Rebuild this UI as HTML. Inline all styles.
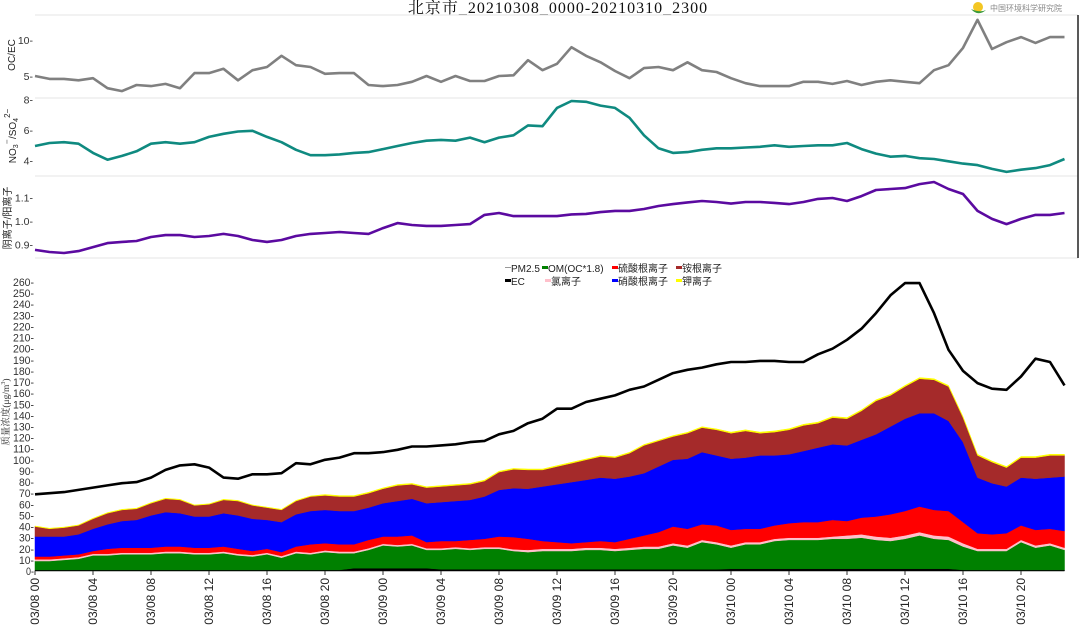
<!DOCTYPE html>
<html><head><meta charset="utf-8">
<style>
html,body{margin:0;padding:0;background:#fff;}
svg{display:block;font-family:"Liberation Sans","Noto Sans CJK SC",sans-serif;}
</style></head>
<body>
<svg id="chart" width="1080" height="626" viewBox="0 0 1080 626" xmlns="http://www.w3.org/2000/svg">
<text x="558" y="13" text-anchor="middle" font-family="'Liberation Serif','Noto Serif CJK SC',serif" font-size="16" letter-spacing="1" fill="#111">北京市_20210308_0000-20210310_2300</text>
<g>
<circle cx="978" cy="7" r="5" fill="#f3c623"/>
<path d="M971 9 Q978 17 986 10 Q980 13 971 9Z" fill="#3a9a3a"/>
<text x="990" y="11" font-size="8" fill="#888">中国环境科学研究院</text>
</g>
<g id="panels"></g>
<g id="main"></g>
</svg>
<script>
const hours = 72;
const tickLabels = ["03/08 00","03/08 04","03/08 08","03/08 12","03/08 16","03/08 20","03/09 00","03/09 04","03/09 08","03/09 12","03/09 16","03/09 20","03/10 00","03/10 04","03/10 08","03/10 12","03/10 16","03/10 20"];
const ocec = [5.0,4.6,4.6,4.4,4.7,3.3,2.9,3.75,3.6,3.9,3.3,5.4,5.4,6.0,4.4,5.8,6.25,7.8,6.5,6.25,5.3,5.4,5.4,3.75,3.6,3.75,4.2,5.0,4.2,5.0,4.3,4.3,5.0,5.1,7.2,5.8,6.7,9.0,7.8,6.9,5.7,4.7,6.1,6.25,5.8,6.9,5.8,5.55,4.7,4.0,3.6,3.6,3.6,4.2,4.2,3.9,4.3,3.75,4.2,4.4,4.2,4.0,5.8,6.5,8.9,12.8,8.75,9.7,10.4,9.6,10.4,10.4];
const no3so4 = [4.95,5.15,5.2,5.1,4.5,4.05,4.3,4.6,5.1,5.2,5.1,5.2,5.55,5.75,5.9,5.95,5.55,5.2,4.7,4.35,4.35,4.4,4.5,4.55,4.75,4.95,5.15,5.3,5.35,5.3,5.5,5.2,5.5,5.65,6.3,6.25,7.45,7.9,7.85,7.6,7.45,6.8,5.65,4.8,4.5,4.55,4.7,4.8,4.8,4.85,4.9,5.0,4.9,4.95,5.0,5.0,5.15,4.75,4.45,4.25,4.3,4.15,4.1,3.95,3.8,3.7,3.45,3.25,3.4,3.5,3.7,4.1];
const anionCation = [0.877,0.868,0.864,0.872,0.889,0.906,0.911,0.915,0.932,0.94,0.94,0.932,0.936,0.945,0.936,0.919,0.911,0.919,0.936,0.945,0.949,0.953,0.949,0.945,0.97,0.991,0.983,0.979,0.979,0.983,0.987,1.026,1.034,1.021,1.021,1.021,1.021,1.028,1.03,1.038,1.043,1.043,1.051,1.064,1.072,1.079,1.085,1.081,1.074,1.081,1.081,1.077,1.072,1.081,1.094,1.098,1.085,1.106,1.132,1.136,1.14,1.157,1.166,1.136,1.115,1.043,1.009,0.987,1.009,1.026,1.026,1.034];
const pm25 = [69,70,71,73,75,77,79,80,84,91,95,96,93,84,83,87,87,88,97,96,100,102,106,106,107,109,112,112,113,114,116,117,123,126,133,137,146,146,152,155,158,163,166,172,178,181,183,186,188,188,189,189,188,188,195,200,208,218,232,248,259,259,232,199,180,169,164,163,175,191,188,167];
const ec = [1,1,1,1,1,1,1,1,1,1,1,1,1,1,1,1,1,1,1,1,1,1,2.5,2.5,2.5,2.5,2.5,2.5,1.5,1.5,1.5,1.5,1.5,1.5,1.5,1.5,1.5,1.5,1.5,1.5,1.5,1.5,1.5,1.5,1.5,1.5,1.5,1.5,2,2,2,2,2,2,2,2,2,2,2,2,2,2,2,2,1,1,1,1,1,1,1,1];
const om = [8,8,9,10,13,13,14,14,14,15,15,14,14,15,13,12,14,11,15,14,16,15,13.5,16.5,20.5,19.5,20.5,16.5,17.5,18.5,17.5,18.5,18.5,16.5,15.5,16.5,16.5,16.5,17.5,17.5,16.5,17.5,18.5,18.5,21.5,19.5,24.5,22.5,19,22,22,25,26,26,26,27,27,28,26,25,27,30,27,26,21,17,17,17,25,20,22,18];
const chloride = [1.5,1.5,1.5,1.5,1.5,1.5,1.5,1.5,1.5,1.5,1.5,1.5,1.5,1.5,1.5,1.5,1.5,1.5,1.5,1.5,1.5,1.5,1.5,1.5,1.5,1.5,1.5,1.5,1.5,1.5,1.5,1.5,1.5,1.5,2,2,2,2,2,2,2,2,2,2,2,2,2,2,2,2,2,2,2,2,2,2,3,3,3,3,3,3,3,3,3,2,2,2,2,2,2,2];
const sulfate = [2.5,2.5,2.5,2.5,2.5,4.5,4.5,4.5,4.5,4.5,4.5,4.5,4.5,4.5,4.5,3.5,3.5,3.5,4.5,7.5,6.5,6.5,6.5,7.5,6.5,7.5,7.5,5.5,6.5,5.5,7.5,7.5,9.5,11,10,7,6,5,5,6,6,8,10,13,15,15,14,15,14,12,12,12,13,14,14,15,13,15,18,21,22,23,23,23,19,14,13,14,13,14,13,15];
const nitrate = [18,18,17,18,20,22,24,25,29,31,30,28,28,30,30,29,26,27,29,30,30,30,30,29,30,32,33,35,35,36,36,38,42,44,45,49,52,55,56,57,57,56,56,59,60,63,65,63,64,64,66,63,62,64,67,68,68,70,74,79,83,84,87,81,72,50,46,42,43,46,46,49];
const ammonium = [9,7,8,8,9,10,10,10,11,12,12,10,11,12,13,12,11,11,12,13,13,13,13,13,13,14,13,14,14,14,14,14,16,17,17,15,16,17,18,19,19,21,25,23,21,23,22,23,23,24,20,21,22,23,22,24,24,26,30,28,29,31,30,31,22,20,19,17,18,19,20,19];
const potassium = [0.5,0.5,0.5,0.5,0.5,0.5,0.5,0.5,0.5,0.5,0.5,0.5,0.5,0.5,0.5,0.5,0.5,0.5,0.5,0.5,0.8,0.8,0.8,0.8,0.8,0.8,0.8,0.8,0.8,0.8,0.8,0.8,0.8,0.8,0.8,0.8,0.8,0.8,0.8,0.8,0.8,0.8,0.8,0.8,0.8,0.8,0.8,0.8,1,1,1,1,1,1,1,1,1,1,1,1,1,1,1,1,1,1,1,1,1,1,1,1];
const yTicksMain = [0,10,20,30,40,50,60,70,80,90,100,110,120,130,140,150,160,170,180,190,200,210,220,230,240,250,260];

const NS="http://www.w3.org/2000/svg";
function mk(tag, attrs, parent){const e=document.createElementNS(NS,tag);for(const k in attrs)e.setAttribute(k,attrs[k]);parent.appendChild(e);return e;}
const X0=35, DX=14.5;
function x(i){return X0+i*DX;}
function yMain(v){return 571 - v*(289/260);}
const panels=document.getElementById('panels');
const main=document.getElementById('main');

[15,98,176,258].forEach((yy)=>{const l=mk('line',{x1:35,x2:1078,y1:yy,y2:yy,stroke:'#e6e6e6','stroke-width':1},panels);

});
const edge=mk('line',{x1:1078,x2:1078,y1:15,y2:258,stroke:'#222','stroke-width':1.5},panels);



function linePanel(vals, yf, color, name){
  let d='';vals.forEach((v,i)=>{d+=(i?'L':'M')+x(i).toFixed(1)+' '+yf(v).toFixed(1);});
  const p=mk('path',{d:d,fill:'none',stroke:color,'stroke-width':2.6,'stroke-linejoin':'round'},panels);
  
  
}
function tickPanel(vals, yf, labels, name){
  vals.forEach((v,k)=>{const t=mk('text',{x:33,y:yf(v)+4,'text-anchor':'end','font-size':10.5,fill:'#333'},panels);
  t.textContent=labels[k]+'-';
  
  });
}
const yP1=v=>76-(v-5)*7.2;
const yP2=v=>130-(v-6)*15.25;
const yP3=v=>221-(v-1)*235;
const p1Ticks=[5,10], p2Ticks=[4,6,8], p3Ticks=[0.9,1.0,1.1];
tickPanel(p1Ticks,yP1,['5','10'],'ocec-tick');
tickPanel(p2Ticks,yP2,['4','6','8'],'no3so4-tick');
tickPanel(p3Ticks,yP3,['0.9','1.0','1.1'],'ratio-tick');
linePanel(ocec,yP1,'#808080','ocec-line');
linePanel(no3so4,yP2,'#0f8a80','no3-so4-line');
linePanel(anionCation,yP3,'#5b0aa0','anion-cation-line');

function rotText(txt,xx,yy,size,name){const t=mk('text',{x:0,y:0,transform:`translate(${xx},${yy}) rotate(-90)`,'text-anchor':'middle','font-size':size,fill:'#222'},panels);
t.innerHTML=txt;

return t;}
rotText('OC/EC',15,55,10,'ocec-axis-title');
rotText('NO<tspan font-size="7" dy="2">3</tspan><tspan dy="-6">⁻</tspan><tspan dy="4">/SO</tspan><tspan font-size="7" dy="2">4</tspan><tspan dy="-8" font-size="8">2−</tspan>',16,136,10,'no3-so4-axis-title');
rotText('阴离子/阳离子',11,218,10,'anion-cation-axis-title');

yTicksMain.forEach(v=>{const t=mk('text',{x:34,y:yMain(v)+4,'text-anchor':'end','font-size':11,fill:'#333',textLength:v>=100?21:(v>0?15:8),lengthAdjust:'spacingAndGlyphs'},main);
t.textContent=v+'-';

});
const yt=mk('text',{x:0,y:0,transform:'translate(9,412) rotate(-90)','text-anchor':'middle','font-size':9.5,fill:'#333','font-family':"'Liberation Serif','Noto Serif CJK SC',serif"},main);
yt.innerHTML='质量浓度(μg/m<tspan dy="-4" font-size="6">3</tspan><tspan dy="4">)</tspan>';



const layers=[ec,om,chloride,sulfate,nitrate,ammonium,potassium];
const colors=['#000000','#008000','#ffc0cb','#ff0000','#0000ff','#a52a2a','#ffff00'];
const cum=new Array(hours).fill(0);
layers.forEach((arr,li)=>{
  const lower=cum.slice();
  for(let i=0;i<hours;i++)cum[i]+=arr[i];
  let d='';
  for(let i=0;i<hours;i++)d+=(i?'L':'M')+x(i).toFixed(1)+' '+yMain(cum[i]).toFixed(1);
  for(let i=hours-1;i>=0;i--)d+='L'+x(i).toFixed(1)+' '+yMain(lower[i]).toFixed(1);
  d+='Z';
  const p=mk('path',{d:d,fill:colors[li],stroke:colors[li],'stroke-width':0.5},main);
  
  
});
{let d='';pm25.forEach((v,i)=>{d+=(i?'L':'M')+x(i).toFixed(1)+' '+yMain(v).toFixed(1);});
const p=mk('path',{d:d,fill:'none',stroke:'#000','stroke-width':2.6,'stroke-linejoin':'round'},main);

}

tickLabels.forEach((lab,k)=>{const xx=x(k*4);
const tm=mk('line',{x1:xx,x2:xx,y1:571,y2:575,stroke:'#333','stroke-width':1},main);


const t=mk('text',{x:0,y:0,transform:`translate(${xx+4},578) rotate(-90)`,'text-anchor':'end','font-size':12,fill:'#222'},main);
t.textContent=lab;

});

const legendItems=[
 {n:'PM2.5',c:'#999',x:505,y:268,thin:true},{n:'OM(OC*1.8)',c:'#008000',x:542,y:268},{n:'硫酸根离子',c:'#ff0000',x:612,y:268},{n:'铵根离子',c:'#a52a2a',x:676,y:268},
 {n:'EC',c:'#000',x:505,y:281},{n:'氯离子',c:'#ffc0cb',x:545,y:281},{n:'硝酸根离子',c:'#0000ff',x:612,y:281},{n:'钾离子',c:'#ffff00',x:676,y:281}];
legendItems.forEach(it=>{const g=mk('g',{},main);


mk('rect',{x:it.x,y:it.y-(it.thin?1:2),width:6,height:it.thin?1:3,fill:it.c},g);
const t=mk('text',{x:it.x+6,y:it.y+4,'font-size':10,fill:'#222'},g);t.textContent=it.n;});
</script>
</body></html>
